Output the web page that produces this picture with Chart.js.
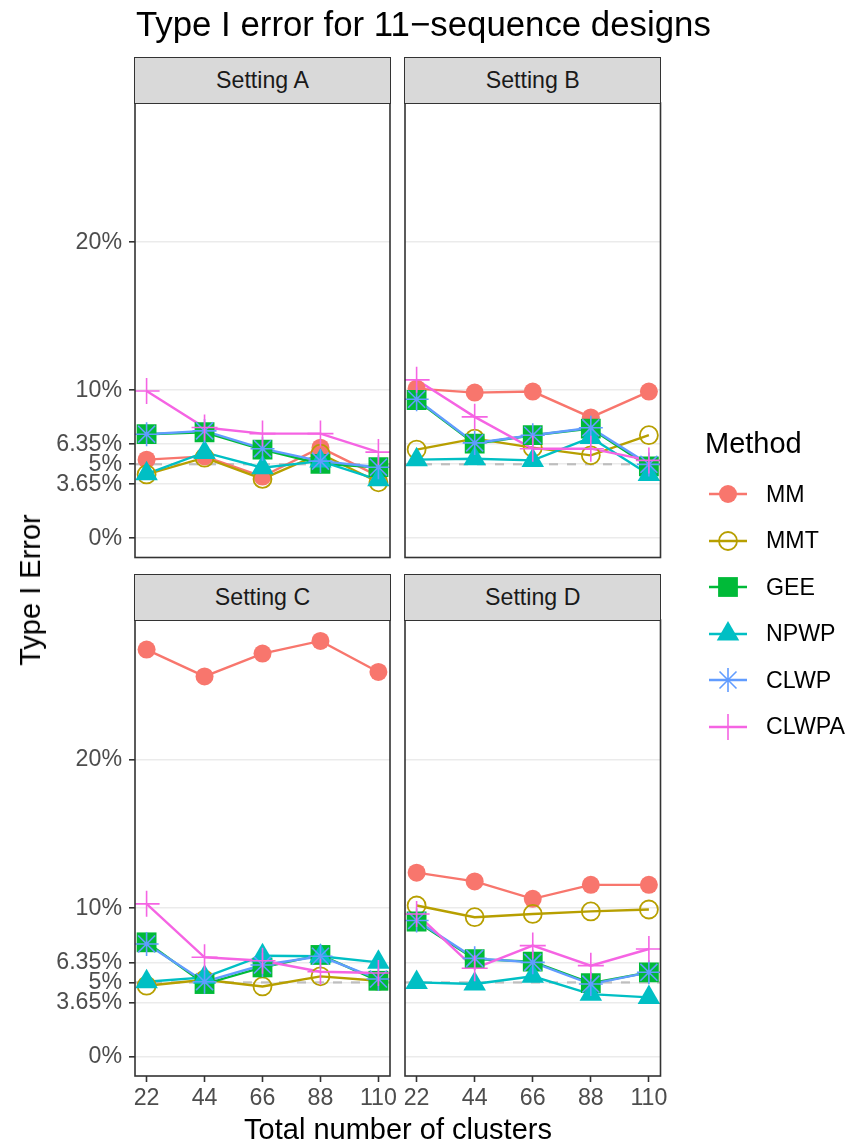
<!DOCTYPE html>
<html>
<head>
<meta charset="utf-8">
<script src="https://cdn.jsdelivr.net/npm/chart.js@4.4.1/dist/chart.umd.min.js"></script>
<style>
  html, body { margin: 0; padding: 0; }
  body { width: 850px; height: 1144px; background: #fff; position: relative; overflow: hidden;
         font-family: "Liberation Sans", Arial, Helvetica, sans-serif; }
  canvas.panel { position: absolute; left: 0; top: 0; }
  .strip { position: absolute; box-sizing: border-box; background: #D9D9D9; border: 1.6px solid #333;
           color: #1A1A1A; font-size: 23.2px; display: flex; align-items: center; justify-content: center; line-height: 1; }
  .txt { position: absolute; white-space: nowrap; line-height: 1; }
  canvas.key { position: absolute; }
</style>
</head>
<body>
<script>
// Total number of clusters (x) and nominal significance level (dashed reference)
const clusters = [22, 44, 66, 88, 110];
const nominalLevel = 5;
const yBreaks = [0, 3.65, 5, 6.35, 10, 20];
const settings = ['Setting A', 'Setting B', 'Setting C', 'Setting D'];
const methods = ['MM', 'MMT', 'GEE', 'NPWP', 'CLWP', 'CLWPA'];

// Type I error (%) per method; one row per setting (A, B, C, D)
const MM = [
  [5.31, 5.53, 4.17, 6.12, 4.20],
  [10.11, 9.84, 9.91, 8.16, 9.91],
  [27.41, 25.60, 27.14, 27.99, 25.90],
  [12.39, 11.80, 10.63, 11.57, 11.57]
];
const MMT = [
  [4.31, 5.44, 4.01, 5.71, 3.78],
  [5.99, 6.73, 6.12, 5.60, 6.96],
  [4.78, 5.18, 4.73, 5.41, 5.11],
  [10.18, 9.39, 9.61, 9.78, 9.91]
];
const GEE = [
  [7.03, 7.16, 5.99, 5.03, 4.80],
  [9.34, 6.39, 6.96, 7.41, 4.85],
  [7.70, 4.89, 6.01, 6.85, 5.11],
  [9.10, 6.57, 6.40, 4.95, 5.68]
];
const NPWP = [
  [4.35, 5.80, 4.76, 5.21, 3.95],
  [5.31, 5.37, 5.26, 6.80, 4.31],
  [5.05, 5.34, 6.80, 6.76, 6.35],
  [5.00, 4.89, 5.41, 4.21, 3.99]
];
const CLWP = [
  [7.03, 7.25, 6.05, 5.21, 4.80],
  [9.39, 6.44, 6.96, 7.46, 4.99],
  [7.59, 5.05, 6.17, 6.76, 5.23],
  [9.17, 6.62, 6.35, 4.89, 5.68]
];
const CLWPA = [
  [9.95, 7.48, 7.07, 7.07, 5.82],
  [10.70, 8.20, 6.05, 6.05, 5.26],
  [10.29, 6.69, 6.46, 5.72, 5.63],
  [9.61, 5.95, 7.48, 6.13, 7.25]
];
const seriesByMethod = [MM, MMT, GEE, NPWP, CLWP, CLWPA];

// Styling
const colours = ['#F8766D', '#B79F00', '#00BA38', '#00BFC4', '#619CFF', '#F564E3'];
const markers = [
  { style: 'circle',   r: 9,  fill: true,  bw: 0 },
  { style: 'circle',   r: 9,  fill: false, bw: 1.8 },
  { style: 'rect',     r: 14, fill: true,  bw: 0 },
  { style: 'triangle', r: 13, fill: true,  bw: 0 },
  { style: 'star',     r: 12, fill: false, bw: 1.6 },
  { style: 'cross',    r: 13, fill: false, bw: 1.6 }
];
const LINE_W = 2.4;
const FONT = '"Liberation Sans", Arial, Helvetica, sans-serif';

// Panel rectangles (plot areas) and strips
const panels = [
  { x0: 135, x1: 390, y0: 103, y1: 557.5, showX: false, showY: true },
  { x0: 405, x1: 660.5, y0: 103, y1: 557.5, showX: false, showY: false },
  { x0: 135, x1: 390, y0: 620, y1: 1076, showX: true, showY: true },
  { x0: 405, x1: 660.5, y0: 620, y1: 1076, showX: true, showY: false }
];
const STRIP_H = 46;

const refLine = {
  id: 'refLine',
  beforeDatasetsDraw(chart) {
    const { ctx, chartArea: a, scales: { y } } = chart;
    const py = y.getPixelForValue(nominalLevel);
    ctx.save();
    ctx.strokeStyle = '#BEBEBE';
    ctx.lineWidth = 2.2;
    ctx.setLineDash([9, 9]);
    ctx.beginPath();
    ctx.moveTo(a.left, py);
    ctx.lineTo(a.right, py);
    ctx.stroke();
    ctx.restore();
  }
};
const frame = {
  id: 'frame',
  afterDraw(chart) {
    const { ctx, chartArea: a } = chart;
    ctx.save();
    ctx.strokeStyle = '#333333';
    ctx.lineWidth = 1.6;
    ctx.strokeRect(a.left, a.top, a.right - a.left, a.bottom - a.top);
    ctx.restore();
  }
};

function makePanel(idx) {
  const p = panels[idx];
  const canvas = document.createElement('canvas');
  canvas.width = 850; canvas.height = 1144; canvas.className = 'panel';
  document.body.appendChild(canvas);

  const yAxisW = p.showY ? 80 : 0;
  const xAxisH = p.showX ? 45 : 0;

  const datasets = [];
  methods.forEach((m, k) => {
    const pts = clusters.map((c, i) => ({ x: c, y: seriesByMethod[k][idx][i] }));
    datasets.push({
      label: m, data: pts, borderColor: colours[k], borderWidth: LINE_W,
      pointRadius: 0, tension: 0, fill: false, order: 20 - k
    });
    const mk = markers[k];
    datasets.push({
      label: m, data: pts, showLine: false,
      pointStyle: mk.style, pointRadius: mk.r, pointHoverRadius: mk.r,
      pointBackgroundColor: mk.fill ? colours[k] : 'rgba(0,0,0,0)',
      pointBorderColor: colours[k], pointBorderWidth: mk.bw,
      order: 5 - k
    });
  });

  new Chart(canvas, {
    type: 'line',
    data: { datasets },
    plugins: [refLine, frame],
    options: {
      responsive: false, animation: false, devicePixelRatio: 1,
      events: [],
      layout: { padding: { left: p.x0 - yAxisW, top: p.y0, right: 850 - p.x1, bottom: 1144 - p.y1 - xAxisH } },
      plugins: { legend: { display: false }, tooltip: { enabled: false } },
      scales: {
        x: {
          type: 'linear', min: 17.6, max: 114.4, display: p.showX,
          afterBuildTicks(s) { s.ticks = clusters.map(v => ({ value: v })); },
          afterFit(s) { s.height = xAxisH; },
          border: { display: false },
          grid: { drawOnChartArea: false, drawTicks: true, tickLength: 6, tickColor: '#333333', tickWidth: 1.6 },
          ticks: { autoSkip: false, maxRotation: 0, padding: 3, color: '#4D4D4D',
                   font: { family: FONT, size: 23.2 }, callback: v => String(v) }
        },
        y: {
          type: 'linear', min: -1.3, max: 29.4,
          afterBuildTicks(s) { s.ticks = yBreaks.map(v => ({ value: v })); },
          afterFit(s) { s.width = yAxisW; s.paddingTop = 0; s.paddingBottom = 0; },
          border: { display: false },
          grid: { color: '#EBEBEB', lineWidth: 1.6, drawTicks: p.showY, tickLength: 6,
                  tickColor: '#333333', tickWidth: 1.6 },
          ticks: { display: p.showY, autoSkip: false, padding: 7, color: '#4D4D4D',
                   font: { family: FONT, size: 23.2 }, callback: v => v + '%' }
        }
      }
    }
  });

  const strip = document.createElement('div');
  strip.className = 'strip';
  strip.style.left = (p.x0 - 0.8) + 'px';
  strip.style.top = (p.y0 - STRIP_H) + 'px';
  strip.style.width = (p.x1 - p.x0 + 1.6) + 'px';
  strip.style.height = (STRIP_H + 0.8) + 'px';
  strip.textContent = settings[idx];
  document.body.appendChild(strip);
}

function addText(str, left, top, size, colour, extra) {
  const d = document.createElement('div');
  d.className = 'txt';
  d.textContent = str;
  d.style.left = left + 'px';
  d.style.top = top + 'px';
  d.style.fontSize = size + 'px';
  d.style.color = colour;
  if (extra) Object.assign(d.style, extra);
  document.body.appendChild(d);
  return d;
}

function drawMarker(ctx, k, x, y) {
  const mk = markers[k];
  ctx.fillStyle = mk.fill ? colours[k] : 'rgba(0,0,0,0)';
  ctx.strokeStyle = colours[k];
  ctx.lineWidth = mk.bw;
  if (Chart.helpers && Chart.helpers.drawPoint) {
    Chart.helpers.drawPoint(ctx, { pointStyle: mk.style, radius: mk.r, borderWidth: mk.bw, rotation: 0 }, x, y);
    return;
  }
  const r = mk.r;
  ctx.beginPath();
  if (mk.style === 'circle') ctx.arc(x, y, r, 0, Math.PI * 2);
  else if (mk.style === 'rect') { const s = r * Math.SQRT1_2; ctx.rect(x - s, y - s, 2 * s, 2 * s); }
  else if (mk.style === 'triangle') {
    ctx.moveTo(x, y - r);
    ctx.lineTo(x + r * Math.sin(2 * Math.PI / 3), y + r * 0.5);
    ctx.lineTo(x - r * Math.sin(2 * Math.PI / 3), y + r * 0.5);
    ctx.closePath();
  } else {
    ctx.moveTo(x - r, y); ctx.lineTo(x + r, y); ctx.moveTo(x, y - r); ctx.lineTo(x, y + r);
    if (mk.style === 'star') {
      const o = r * Math.SQRT1_2;
      ctx.moveTo(x - o, y - o); ctx.lineTo(x + o, y + o); ctx.moveTo(x - o, y + o); ctx.lineTo(x + o, y - o);
    }
  }
  ctx.fill();
  if (mk.bw > 0) ctx.stroke();
}

panels.forEach((_, i) => makePanel(i));

// Titles
addText('Type I error for 11\u2212sequence designs', 136, 6.5, 34.8, '#000');
addText('Total number of clusters', 398, 1115, 29, '#000', { transform: 'translateX(-50%)' });
const yt = addText('Type I Error', 15.5, 590, 29, '#000', {});
yt.style.transformOrigin = '0 0';
yt.style.transform = 'rotate(-90deg) translateX(-50%)';

// Legend
addText('Method', 705, 428.5, 29, '#000');
methods.forEach((m, k) => {
  const cy = 494 + 46.5 * k;
  const c = document.createElement('canvas');
  c.className = 'key';
  c.width = 50; c.height = 40;
  c.style.left = '703px';
  c.style.top = (cy - 20) + 'px';
  document.body.appendChild(c);
  const ctx = c.getContext('2d');
  ctx.strokeStyle = colours[k];
  ctx.lineWidth = LINE_W;
  ctx.beginPath();
  ctx.moveTo(6, 20); ctx.lineTo(44, 20);
  ctx.stroke();
  drawMarker(ctx, k, 25, 20);
  addText(m, 766, cy - 11.3, 23.2, '#000');
});
</script>
</body>
</html>
